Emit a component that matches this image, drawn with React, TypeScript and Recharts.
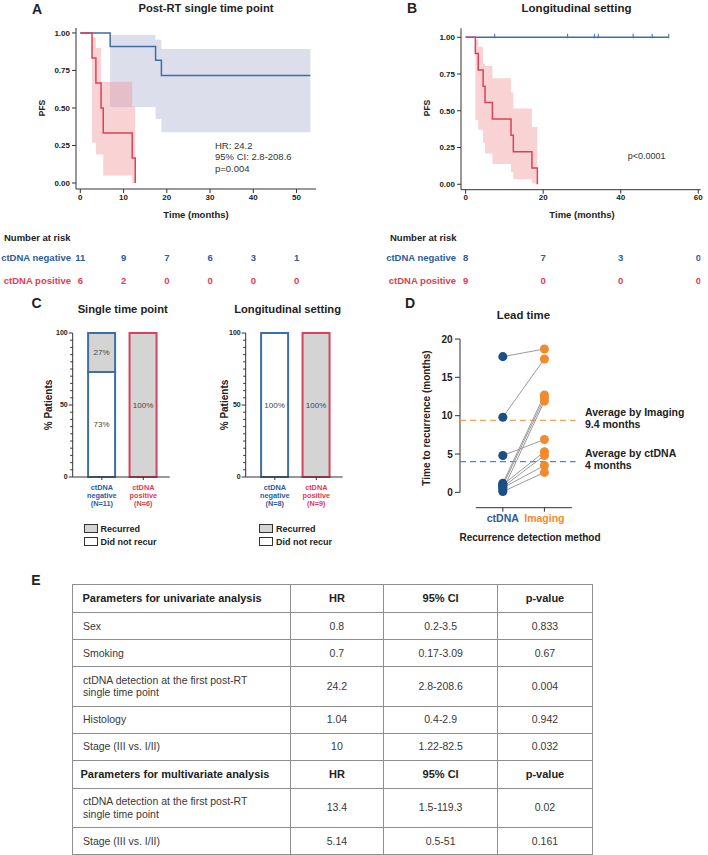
import React from 'react'
import {
  ComposedChart, BarChart, Bar, Cell, LabelList, Line, Area, Scatter,
  XAxis, YAxis, ReferenceLine,
} from 'recharts'

const FONT = '"Liberation Sans", Arial, Helvetica, sans-serif'
const INK = '#222'
const NEG_LINE = '#3f6ea5'
const POS_LINE = '#d8435b'
const NEG_TXT = '#2b5c9c'
const POS_TXT = '#e23b52'
const NEG_FILL = '#9497c4'
const POS_FILL = '#f08f94'
const ORANGE = '#f28a2e'
const NAVY = '#1b4f85'

// A: post-RT single time point (KM estimate + 95% CI)
const aNegTime = [0, 6.9, 17.4, 18.75, 53.2]
const aNegSurv = [1, 0.909, 0.818, 0.716, 0.716]
const aNegLow = [1, 0.507, 0.427, 0.338, 0.338]
const aNegHigh = [1, 0.987, 0.955, 0.893, 0.893]
const aPosTime = [0, 2.7, 3.6, 4.8, 5.3, 12.0, 12.7]
const aPosSurv = [1, 0.833, 0.667, 0.5, 0.333, 0.167, 0]
const aPosLow = [1, 0.27, 0.19, 0.19, 0.05, 0, 0]
const aPosHigh = [1, 0.97, 0.9, 0.675, 0.675, 0.51, 0]

// B: longitudinal setting
const bNegTime = [0, 52.4]
const bNegSurv = [1, 1]
const bNegCensor = [7.5, 26.3, 33.2, 34.2, 43.2, 48.1, 52.4]
const bPosTime = [0, 2.5, 3.25, 4.5, 5.0, 6.9, 11.7, 12.3, 17.1, 18.5]
const bPosSurv = [1, 0.889, 0.778, 0.667, 0.556, 0.444, 0.333, 0.222, 0.111, 0]
const bPosLow = [1, 0.437, 0.37, 0.283, 0.21, 0.138, 0.082, 0.034, 0.005, 0]
const bPosHigh = [1, 0.985, 0.936, 0.82, 0.805, 0.721, 0.624, 0.515, 0.39, 0]

// number at risk
const riskGroups = ['ctDNA negative', 'ctDNA positive']
const aRiskTimes = [0, 10, 20, 30, 40, 50]
const aRiskNeg = [11, 9, 7, 6, 3, 1]
const aRiskPos = [6, 2, 0, 0, 0, 0]
const bRiskTimes = [0, 20, 40, 60]
const bRiskNeg = [8, 7, 3, 0]
const bRiskPos = [9, 0, 0, 0]

// C: recurrence share
const cGroups = ['negative', 'positive']
const cSingleN = [11, 6]
const cSingleRecurred = [27, 100]
const cSingleNoRecur = [73, 0]
const cLongN = [8, 9]
const cLongRecurred = [0, 100]
const cLongNoRecur = [100, 0]

// D: lead time, paired per patient
const dMethods = ['ctDNA', 'Imaging']
const dCtdna = [17.7, 9.8, 4.8, 1.2, 0.9, 0.3, 1.0, 0.7, 0.6, 0.1]
const dImaging = [18.7, 17.4, 6.9, 12.7, 12.3, 11.9, 5.3, 4.8, 3.5, 2.6]
const dAvgImaging = 9.4
const dAvgCtdna = 4

// E: Cox regression
const eUniParams = ['Sex', 'Smoking', 'ctDNA detection at the first post-RT\nsingle time point', 'Histology', 'Stage (III vs. I/II)']
const eUniHR = ['0.8', '0.7', '24.2', '1.04', '10']
const eUniCI = ['0.2-3.5', '0.17-3.09', '2.8-208.6', '0.4-2.9', '1.22-82.5']
const eUniP = ['0.833', '0.67', '0.004', '0.942', '0.032']
const eMultiParams = ['ctDNA detection at the first post-RT\nsingle time point', 'Stage (III vs. I/II)']
const eMultiHR = ['13.4', '5.14']
const eMultiCI = ['1.5-119.3', '0.5-51']
const eMultiP = ['0.02', '0.161']

type Row = { t: number; s: number; ci?: number[] }
const kmRows = (t: number[], s: number[], lo?: number[], hi?: number[]): Row[] =>
  t.map((x, i) => ({ t: x, s: s[i], ci: lo && hi ? [lo[i], hi[i]] : undefined }))

function Txt({ x, y, children, size = 10, weight = 700, color = INK, anchor = 'middle', rotate = 0 }: any) {
  const tx = anchor === 'middle' ? '-50%' : anchor === 'end' ? '-100%' : '0'
  return (
    <div
      style={{
        position: 'absolute', left: x, top: y, whiteSpace: 'nowrap', lineHeight: 1,
        fontSize: size, fontWeight: weight, color, fontFamily: FONT,
        transform: `translate(${tx}, -50%) rotate(${rotate}deg)`,
      }}
    >
      {children}
    </div>
  )
}

const CensorMark = (props: any) => (
  <line x1={props.cx} x2={props.cx} y1={props.cy - 3.5} y2={props.cy + 1} stroke={NEG_LINE} strokeWidth={1} />
)

function KmPlot(p: any) {
  const tick = { fontSize: 8, fontWeight: 700, fill: INK, fontFamily: FONT }
  return (
    <div style={{ position: 'absolute', left: p.left, top: 0 }}>
      <ComposedChart width={p.width} height={210} margin={{ top: p.marginTop, right: p.marginRight, left: 0, bottom: 0 }}>
        <XAxis type="number" dataKey="t" domain={p.xDomain} ticks={p.xTicks} interval={0} allowDataOverflow
          height={p.xAxisH} tickSize={4} tickMargin={1} stroke="#333" tick={tick} />
        <YAxis type="number" dataKey="s" domain={p.yDomain} ticks={[0, 0.25, 0.5, 0.75, 1]} interval={0} allowDataOverflow
          width={p.yAxisW} tickSize={4} tickMargin={2} stroke="#333" tick={tick} tickFormatter={(v: number) => v.toFixed(2)} />
        {p.neg[0].ci && (
          <Area data={p.neg} dataKey="ci" type="stepAfter" stroke="none" fill={NEG_FILL} fillOpacity={0.32} isAnimationActive={false} />
        )}
        <Area data={p.pos} dataKey="ci" type="stepAfter" stroke="none" fill={POS_FILL} fillOpacity={0.4} isAnimationActive={false} />
        <Line data={p.neg} dataKey="s" type="stepAfter" stroke={NEG_LINE} strokeWidth={1.5} dot={false} isAnimationActive={false} />
        <Line data={p.pos} dataKey="s" type="stepAfter" stroke={POS_LINE} strokeWidth={1.5} dot={false} isAnimationActive={false} />
        {p.censor && <Scatter data={p.censor} shape={CensorMark} isAnimationActive={false} />}
      </ComposedChart>
    </div>
  )
}

const RiskTick = (props: any) => (
  <text x={props.x} y={props.y} dy="0.35em" textAnchor="end" fontSize={9.5} fontWeight={700}
    fill={props.payload.value === 0 ? NEG_TXT : POS_TXT} fontFamily={FONT}>
    {riskGroups[props.payload.value]}
  </text>
)

const RiskCount = (props: any) => (
  <text x={props.cx} y={props.cy} dy="0.35em" textAnchor="middle" fontSize={9.5} fontWeight={700}
    fill={props.payload.g === 0 ? NEG_TXT : POS_TXT} fontFamily={FONT}>
    {props.payload.n}
  </text>
)

function RiskTable(p: any) {
  const rows = [
    ...p.times.map((t: number, i: number) => ({ t, g: 0, n: p.neg[i] })),
    ...p.times.map((t: number, i: number) => ({ t, g: 1, n: p.pos[i] })),
  ]
  return (
    <div style={{ position: 'absolute', left: p.left, top: 245.5 }}>
      <ComposedChart width={p.width} height={46} margin={{ top: 0, right: p.marginRight, left: 0, bottom: 0 }}>
        <XAxis type="number" dataKey="t" domain={p.xDomain} hide allowDataOverflow />
        <YAxis type="number" dataKey="g" domain={[-0.5, 1.5]} reversed ticks={[0, 1]} interval={0} width={p.yAxisW}
          axisLine={false} tickLine={false} tickSize={0} tickMargin={5} tick={RiskTick} />
        <Scatter data={rows} shape={RiskCount} isAnimationActive={false} />
      </ComposedChart>
    </div>
  )
}

const CYTick = (props: any) => {
  const v = props.payload.value
  const major = v % 50 === 0
  return (
    <g>
      <line x1={props.x - (major ? 4 : 2.5)} x2={props.x} y1={props.y} y2={props.y} stroke="#333" strokeWidth={1} />
      {major && (
        <text x={props.x - 5} y={props.y} dy="0.35em" textAnchor="end" fontSize={7} fontWeight={700} fill={INK} fontFamily={FONT}>
          {v}
        </text>
      )}
    </g>
  )
}

const pctLabel = (props: any) => {
  const { x, y, width, height, value } = props
  if (!value) return null
  return (
    <text x={x + width / 2} y={y + height / 2} dy="0.35em" textAnchor="middle" fontSize={8} fill="#444" fontFamily={FONT}>
      {value}%
    </text>
  )
}

function OutcomeBars(p: any) {
  const rows = cGroups.map((g, i) => ({ g, n: p.n[i], rec: p.recurred[i], no: p.noRecur[i] }))
  const XTick = (t: any) => {
    const i = cGroups.indexOf(t.payload.value)
    const lines = ['ctDNA', cGroups[i], `(N=${p.n[i]})`]
    return (
      <text x={t.x} y={t.y} textAnchor="middle" fontSize={7.3} fontWeight={700} fill={i === 0 ? NEG_TXT : POS_TXT} fontFamily={FONT}>
        {lines.map((l, k) => (
          <tspan key={k} x={t.x} dy={k === 0 ? 7.5 : 8.3}>{l}</tspan>
        ))}
      </text>
    )
  }
  return (
    <div style={{ position: 'absolute', left: p.left, top: 320 }}>
      <BarChart width={172} height={200} data={rows} barSize={27} margin={{ top: 13, right: 2.3, left: 0, bottom: 0 }}>
        <XAxis dataKey="g" padding={{ left: 8.4, right: 5.7 }} height={43} tickSize={3} tickMargin={2} stroke="#333" tick={XTick} interval={0} />
        <YAxis type="number" domain={[0, 100]} ticks={[0, 5, 10, 15, 20, 25, 30, 35, 40, 45, 50, 55, 60, 65, 70, 75, 80, 85, 90, 95, 100]}
          interval={0} width={72.7} stroke="#333" tickLine={false} tickSize={0} tickMargin={0} tick={CYTick} />
        <Bar dataKey="no" stackId="a" fill="#ffffff" strokeWidth={2} isAnimationActive={false}>
          {rows.map((_, i) => <Cell key={i} stroke={i === 0 ? NEG_LINE : POS_LINE} />)}
          <LabelList dataKey="no" content={pctLabel} />
        </Bar>
        <Bar dataKey="rec" stackId="a" fill="#d4d4d4" strokeWidth={2} isAnimationActive={false}>
          {rows.map((_, i) => <Cell key={i} stroke={i === 0 ? NEG_LINE : POS_LINE} />)}
          <LabelList dataKey="rec" content={pctLabel} />
        </Bar>
      </BarChart>
    </div>
  )
}

function CLegend({ x }: { x: number }) {
  const items = [['Recurred', '#d4d4d4'], ['Did not recur', '#ffffff']]
  return (
    <>
      {items.map(([label, fill], i) => (
        <React.Fragment key={label}>
          <div style={{ position: 'absolute', left: x, top: 524 + i * 13, width: 12, height: 7, background: fill, border: '1px solid #333' }} />
          <Txt x={x + 17} y={528.5 + i * 13} size={9} anchor="start">{label}</Txt>
        </React.Fragment>
      ))}
    </>
  )
}

const DXTick = (props: any) => (
  <text x={props.x} y={props.y} dy={8} textAnchor="middle" fontSize={10.5} fontWeight={700}
    fill={props.payload.value === 0 ? NEG_TXT : ORANGE} fontFamily={FONT}>
    {dMethods[props.payload.value]}
  </text>
)

const avgLabel = (lines: string[]) => (props: any) => {
  const vb = props.viewBox
  const x = vb.x + vb.width + 9.4
  return (
    <text x={x} y={vb.y} fontSize={10.5} fontWeight={700} fill={INK} fontFamily={FONT}>
      <tspan x={x} dy={-4.3}>{lines[0]}</tspan>
      <tspan x={x} dy={11.8}>{lines[1]}</tspan>
    </text>
  )
}

function LeadTime() {
  const ctdnaPts = dCtdna.map((y) => ({ x: 0, y }))
  const imagingPts = dImaging.map((y) => ({ x: 1, y }))
  return (
    <div style={{ position: 'absolute', left: 400, top: 320 }}>
      <ComposedChart width={300} height={240} margin={{ top: 19, right: 124.4, left: 0, bottom: 32.3 }}>
        <XAxis type="number" dataKey="x" domain={[-1.03, 1.75]} ticks={[0, 1]} interval={0} allowDataOverflow height={20}
          axisLine={false} tickSize={4} tickMargin={2} stroke="#333" tick={DXTick} />
        <YAxis type="number" dataKey="y" domain={[-2, 20]} ticks={[0, 5, 10, 15, 20]} interval={0} allowDataOverflow width={60}
          axisLine={false} tickSize={5} tickMargin={2.3} stroke="#333"
          tick={{ fontSize: 10, fontWeight: 700, fill: INK, fontFamily: FONT }} />
        <ReferenceLine segment={[{ x: -1.03, y: 0 }, { x: -1.03, y: 20 }]} stroke="#333" />
        <ReferenceLine segment={[{ x: -0.65, y: -2 }, { x: 1.66, y: -2 }]} stroke="#333" />
        <ReferenceLine y={dAvgImaging} stroke="#f5a05a" strokeWidth={1.3} strokeDasharray="6 4"
          label={avgLabel(['Average by Imaging', `${dAvgImaging} months`])} />
        <ReferenceLine y={dAvgCtdna} stroke="#5a85b8" strokeWidth={1.3} strokeDasharray="6 4"
          label={avgLabel(['Average by ctDNA', `${dAvgCtdna} months`])} />
        {dCtdna.map((c, i) => (
          <Line key={i} data={[{ x: 0, y: c }, { x: 1, y: dImaging[i] }]} dataKey="y" stroke="#9a9a9a" strokeWidth={1}
            dot={false} isAnimationActive={false} />
        ))}
        <Scatter data={ctdnaPts} fill={NAVY} isAnimationActive={false} />
        <Scatter data={imagingPts} fill={ORANGE} isAnimationActive={false} />
      </ComposedChart>
    </div>
  )
}

const cell: React.CSSProperties = { border: '1px solid #8e8e8e', textAlign: 'center', padding: 0, fontSize: 10.5, lineHeight: '12.7px' }

function CoxTable() {
  const head = (title: string, pad: number) => (
    <tr style={{ height: 28 }}>
      <td style={{ ...cell, textAlign: 'left', paddingLeft: pad, fontWeight: 700, fontSize: 11, color: INK }}>{title}</td>
      {['HR', '95% CI', 'p-value'].map((h) => (
        <td key={h} style={{ ...cell, fontWeight: 700, fontSize: 11, color: INK }}>{h}</td>
      ))}
    </tr>
  )
  const body = (params: string[], hr: string[], ci: string[], pv: string[]) =>
    params.map((p, i) => (
      <tr key={p} style={{ height: p.includes('\n') ? 39.5 : 27 }}>
        <td style={{ ...cell, textAlign: 'left', paddingLeft: 10, whiteSpace: 'pre-line' }}>{p}</td>
        <td style={cell}>{hr[i]}</td>
        <td style={cell}>{ci[i]}</td>
        <td style={cell}>{pv[i]}</td>
      </tr>
    ))
  return (
    <table style={{ position: 'absolute', left: 72, top: 584, width: 520, borderCollapse: 'collapse', tableLayout: 'fixed', fontFamily: FONT, color: '#383838' }}>
      <colgroup>
        <col style={{ width: 217.5 }} />
        <col style={{ width: 93.8 }} />
        <col style={{ width: 113.7 }} />
        <col style={{ width: 95 }} />
      </colgroup>
      <tbody>
        {head('Parameters for univariate analysis', 9.5)}
        {body(eUniParams, eUniHR, eUniCI, eUniP)}
        {head('Parameters for multivariate analysis', 7.5)}
        {body(eMultiParams, eMultiHR, eMultiCI, eMultiP)}
      </tbody>
    </table>
  )
}

export default function App() {
  return (
    <div style={{ position: 'absolute', left: 0, top: 0, width: 708, height: 855, background: '#fff', overflow: 'hidden', fontFamily: FONT }}>
      {/* A */}
      <Txt x={37} y={9} size={14}>A</Txt>
      <Txt x={206} y={9} size={11.2}>Post-RT single time point</Txt>
      <KmPlot left={0} width={330} marginTop={28} marginRight={14} yAxisW={76} xAxisH={21}
        xDomain={[-1, 54.5]} xTicks={aRiskTimes} yDomain={[-0.04, 1.033]}
        neg={kmRows(aNegTime, aNegSurv, aNegLow, aNegHigh)} pos={kmRows(aPosTime, aPosSurv, aPosLow, aPosHigh)} />
      <Txt x={42} y={108} size={8.5} rotate={-90}>PFS</Txt>
      <Txt x={196} y={215} size={9.5}>Time (months)</Txt>
      <Txt x={215} y={145.7} size={9.5} weight={400} color="#333" anchor="start">HR: 24.2</Txt>
      <Txt x={215} y={157.4} size={9.5} weight={400} color="#333" anchor="start">95% CI: 2.8-208.6</Txt>
      <Txt x={215} y={169.1} size={9.5} weight={400} color="#333" anchor="start">p=0.004</Txt>
      <Txt x={4} y={238} size={9.5} anchor="start">Number at risk</Txt>
      <RiskTable left={0} width={330} marginRight={14} yAxisW={76} xDomain={[-1, 54.5]}
        times={aRiskTimes} neg={aRiskNeg} pos={aRiskPos} />

      {/* B */}
      <Txt x={412} y={8} size={14}>B</Txt>
      <Txt x={576.5} y={9} size={11.5}>Longitudinal setting</Txt>
      <KmPlot left={380} width={328} marginTop={28.3} marginRight={7.4} yAxisW={81} xAxisH={20.3}
        xDomain={[-1.2, 60.6]} xTicks={bRiskTimes} yDomain={[-0.037, 1.061]}
        neg={kmRows(bNegTime, bNegSurv)} pos={kmRows(bPosTime, bPosSurv, bPosLow, bPosHigh)}
        censor={bNegCensor.map((t) => ({ t, s: 1 }))} />
      <Txt x={427} y={108} size={8.5} rotate={-90}>PFS</Txt>
      <Txt x={582} y={215} size={9.5}>Time (months)</Txt>
      <Txt x={646.7} y={155.7} size={9} weight={400} color="#333">p&lt;0.0001</Txt>
      <Txt x={390} y={238} size={9.5} anchor="start">Number at risk</Txt>
      <RiskTable left={380} width={328} marginRight={7.4} yAxisW={81} xDomain={[-1.2, 60.6]}
        times={bRiskTimes} neg={bRiskNeg} pos={bRiskPos} />

      {/* C */}
      <Txt x={36.5} y={303} size={14}>C</Txt>
      <Txt x={122.7} y={310} size={11.2}>Single time point</Txt>
      <Txt x={287.6} y={310} size={11.2}>Longitudinal setting</Txt>
      <Txt x={49} y={405} size={10} rotate={-90}>% Patients</Txt>
      <Txt x={225} y={405} size={10} rotate={-90}>% Patients</Txt>
      <OutcomeBars left={0} n={cSingleN} recurred={cSingleRecurred} noRecur={cSingleNoRecur} />
      <OutcomeBars left={173} n={cLongN} recurred={cLongRecurred} noRecur={cLongNoRecur} />
      <CLegend x={83.5} />
      <CLegend x={259} />

      {/* D */}
      <Txt x={410} y={303} size={14}>D</Txt>
      <Txt x={523.4} y={316} size={11.4}>Lead time</Txt>
      <LeadTime />
      <Txt x={426.7} y={418} size={10} rotate={-90}>Time to recurrence (months)</Txt>
      <Txt x={530} y={538} size={10}>Recurrence detection method</Txt>

      {/* E */}
      <Txt x={36} y={580} size={14}>E</Txt>
      <CoxTable />
    </div>
  )
}
